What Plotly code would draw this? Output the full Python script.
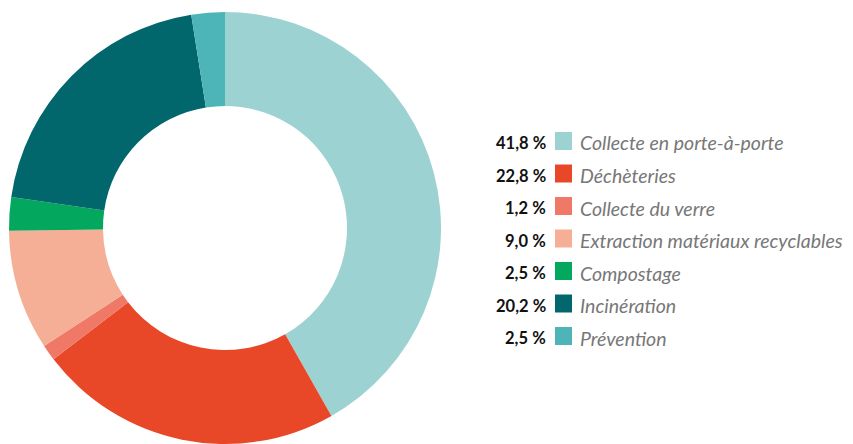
import plotly.graph_objects as go

# Répartition des coûts par activité
labels = [
    "Collecte en porte-à-porte",
    "Déchèteries",
    "Collecte du verre",
    "Extraction matériaux recyclables",
    "Compostage",
    "Incinération",
    "Prévention",
]
values = [41.8, 22.8, 1.2, 9.0, 2.5, 20.2, 2.5]
colors = ["#9dd2d2", "#e84828", "#ef7866", "#f5af96", "#04a75e", "#02666d", "#4db5b7"]

W, H = 853, 444
TOP = 12
PH = H - TOP  # hauteur de la zone de tracé


def py(y_px):
    """Pixel vertical (depuis le haut de la page) -> coordonnée paper."""
    return 1 - (y_px - TOP) / PH


fig = go.Figure(
    go.Pie(
        labels=labels,
        values=values,
        hole=0.565,
        sort=False,
        direction="clockwise",
        rotation=0,
        marker=dict(colors=colors, line=dict(width=0)),
        textinfo="none",
        hoverinfo="label+percent",
        domain=dict(x=[9 / W, 441 / W], y=[0, 1]),
        showlegend=False,
    )
)

# Légende : pourcentage, carré de couleur, libellé
row0, step = 143, 32.5
annotations = []
shapes = []
for i, (lab, val, col) in enumerate(zip(labels, values, colors)):
    yc = row0 + i * step
    pct = f"{val:.1f}".replace(".", ",") + "\u202f%"
    annotations.append(dict(
        x=548 / W, y=py(yc), xref="paper", yref="paper",
        xanchor="right", yanchor="middle", showarrow=False,
        text=f"<b>{pct}</b>",
        font=dict(family="Lato", size=16.5, color="#111111"),
    ))
    annotations.append(dict(
        x=578 / W, y=py(yc), xref="paper", yref="paper",
        xanchor="left", yanchor="middle", showarrow=False,
        text=f"<i>{lab}</i>",
        font=dict(family="Lato", size=19.5, color="#777777"),
    ))
    shapes.append(dict(
        type="rect", xref="paper", yref="paper",
        x0=555 / W, x1=572 / W,
        y0=py(yc + 7), y1=py(yc - 11),
        fillcolor=col, line=dict(width=0),
    ))

fig.update_layout(
    width=W, height=H,
    margin=dict(l=0, r=0, t=TOP, b=0),
    paper_bgcolor="white",
    plot_bgcolor="white",
    annotations=annotations,
    shapes=shapes,
)

fig.write_html("out.html")
